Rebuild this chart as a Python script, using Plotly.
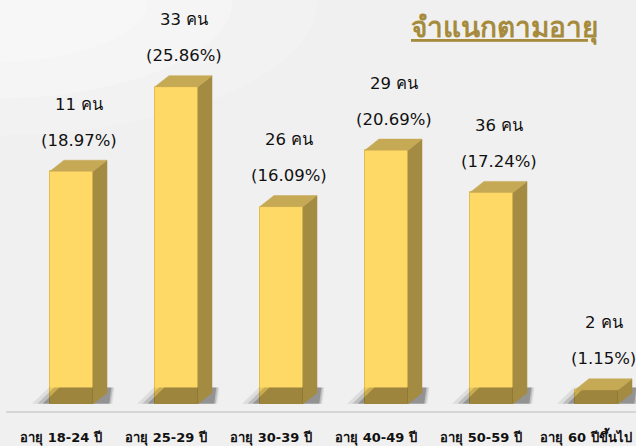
import plotly.graph_objects as go

# ---- data ----
categories = ["อายุ 18-24 ปี", "อายุ 25-29 ปี", "อายุ 30-39 ปี",
              "อายุ 40-49 ปี", "อายุ 50-59 ปี", "อายุ 60 ปีขึ้นไป"]
counts = [11, 33, 26, 29, 36, 2]
percents = [18.97, 25.86, 16.09, 20.69, 17.24, 1.15]
title_text = "จำแนกตามอายุ"

# ---- style ----
FONT = "Tahoma, 'DejaVu Sans', 'Noto Sans', sans-serif"
FRONT = "#FFD966"
SIDE = "#A48B42"
TOP = "#C6A955"
EDGE = "#E0BE50"

OFF = 0.10      # front face centre offset from tick (category units)
BW = 0.41       # front face width
DX = 0.133      # depth in x
DY = 0.90       # depth in y (value units)

fig = go.Figure()

xs = list(range(len(categories)))

# shadows (layered for soft look)
for i, v in zip(xs, percents):
    c = i + OFF
    xl = c - BW / 2
    xr = c + BW / 2
    for spread, op in [(0.17, 0.08), (0.12, 0.14), (0.07, 0.22)]:
        fig.add_trace(go.Scatter(
            x=[xl - spread, xr + DX + spread * 0.3, xr + DX + spread * 0.3 + 0.02, xl - spread + 0.16],
            y=[0.02, 0.02, 1.35, 1.35],
            fill="toself", mode="none", fillcolor=f"rgba(0,0,0,{op})",
            hoverinfo="skip", showlegend=False))

# front faces
fig.add_trace(go.Bar(
    x=[i + OFF for i in xs], y=percents, width=BW,
    marker=dict(color=FRONT, line=dict(color=EDGE, width=1)),
    hoverinfo="skip", showlegend=False))

# side and top faces
for i, v in zip(xs, percents):
    c = i + OFF
    xl = c - BW / 2
    xr = c + BW / 2
    fig.add_trace(go.Scatter(
        x=[xr, xr + DX, xr + DX, xr, xr],
        y=[0, DY, v + DY, v, 0],
        fill="toself", mode="lines", line=dict(color=SIDE, width=0.5),
        fillcolor=SIDE, hoverinfo="skip", showlegend=False))
    fig.add_trace(go.Scatter(
        x=[xl, xr, xr + DX, xl + DX, xl],
        y=[v, v, v + DY, v + DY, v],
        fill="toself", mode="lines", line=dict(color=TOP, width=0.5),
        fillcolor=TOP, hoverinfo="skip", showlegend=False))

# value labels
for i, v, n, p in zip(xs, percents, counts, percents):
    cx = i + 0.17
    fig.add_annotation(x=cx, y=v, xref="x", yref="y", text=f"({p:.2f}%)",
                       showarrow=False, yanchor="middle", yshift=31,
                       font=dict(family=FONT, size=16.5, color="#111111"))
    fig.add_annotation(x=cx, y=v, xref="x", yref="y", text=f"{n} คน",
                       showarrow=False, yanchor="middle", yshift=67,
                       font=dict(family=FONT, size=16.5, color="#111111"))

W, H = 636, 446
L, B = 6, 35
px_per_unit = 105
px_per_pct = 12.27
x0 = -55 / px_per_unit
x1 = x0 + (W - L) / px_per_unit
y0 = -7 / px_per_pct
y1 = y0 + (H - B) / px_per_pct

# title
fig.add_annotation(x=503 / W, y=1 - 30 / H, xref="paper", yref="paper",
                   text=f"<b><u>{title_text}</u></b>",
                   showarrow=False, xanchor="center", yanchor="middle",
                   font=dict(family=FONT, size=28, color="#A68B3C"))

# soft light glow in the top-left corner of the background
for r, op in [(0.55, 0.18), (0.40, 0.22), (0.25, 0.25)]:
    fig.add_shape(type="circle", xref="paper", yref="paper", layer="below",
                  x0=-r, x1=r * 0.9, y0=1 - r * 0.6, y1=1 + r * 0.6,
                  fillcolor=f"rgba(255,255,255,{op})", line=dict(width=0))

fig.update_layout(
    width=W, height=H,
    margin=dict(l=L, r=0, t=0, b=B, pad=0),
    paper_bgcolor="#F0F0F0", plot_bgcolor="rgba(0,0,0,0)",
    xaxis=dict(range=[x0, x1], tickmode="array", tickvals=xs, ticktext=categories,
               showgrid=False, zeroline=False, showline=True, linecolor="#D6D6D6",
               linewidth=2, ticks="", fixedrange=True, ticklabelstandoff=13,
               ticklabeloverflow="allow",
               tickfont=dict(family=FONT, size=13, color="#111111", weight="bold")),
    yaxis=dict(range=[y0, y1], visible=False, fixedrange=True),
    bargap=0,
    showlegend=False,
)

fig.write_html("out.html")
